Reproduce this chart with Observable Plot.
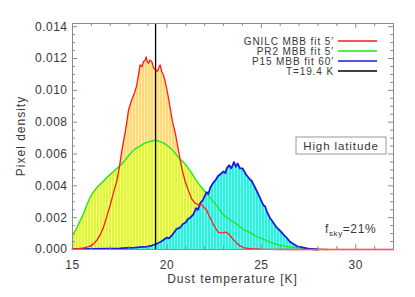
<!DOCTYPE html>
<html><head><meta charset="utf-8">
<script src="https://cdn.jsdelivr.net/npm/d3@7"></script>
<script src="https://cdn.jsdelivr.net/npm/@observablehq/plot@0.6"></script>
<style>
body{margin:0;background:#fff}
</style>
</head><body><div id="chart"></div>
<script>
// GNILC MBB fit 5'
const gnilcTemp = [15.0,15.3,15.6,15.9,16.1,16.3,16.5,16.64,16.8,17.0,17.2,17.35,17.5,17.6,17.7,17.8,17.96,18.05,18.14,18.3,18.4,18.5,18.58,18.68,18.76,18.85,18.9,18.96,19.02,19.1,19.2,19.3,19.38,19.5,19.57,19.64,19.72,19.8,19.9,19.99,20.1,20.17,20.3,20.43,20.6,20.79,20.96,21.14,21.3,21.5,21.7,21.85,22.0,22.1,22.2,22.29,22.45,22.55,22.7,22.8,23.0,23.1,23.25,23.4,23.5,23.7,23.87,24.1,24.4,25.0,26.0,32.0];
const gnilcDensity = [0.0000,0.00005,0.0001,0.0002,0.00034,0.0006,0.0010,0.0014,0.0020,0.0028,0.0037,0.0043,0.0053,0.0061,0.0068,0.0074,0.0087,0.0091,0.0094,0.0099,0.0103,0.0110,0.0116,0.0115,0.0118,0.0119,0.0121,0.0118,0.0117,0.0119,0.0118,0.0114,0.0113,0.0112,0.0114,0.0116,0.0112,0.0110,0.0106,0.0101,0.0094,0.0089,0.0080,0.0074,0.0063,0.0051,0.0043,0.0037,0.0032,0.0029,0.0028,0.0028,0.0026,0.0025,0.0022,0.0020,0.0016,0.0014,0.0011,0.00106,0.00105,0.0011,0.0010,0.0008,0.00065,0.0004,0.00023,0.0001,0.00005,0.00002,0.0,0.0];
// PR2 MBB fit 5'
const pr2Temp = [15.0,15.2,15.4,15.6,15.76,15.95,16.1,16.3,16.64,16.9,17.17,17.45,17.7,18.05,18.3,18.58,18.85,19.1,19.35,19.6,19.8,20.05,20.34,20.6,20.87,21.2,21.58,21.9,22.29,22.6,22.99,23.3,23.7,24.0,24.4,24.7,25.1,25.6,26.16,26.6,27.05,27.5,28.0,28.5];
const pr2Density = [0.0009,0.0013,0.0018,0.0023,0.0028,0.0033,0.0036,0.0039,0.0043,0.0046,0.0049,0.0052,0.0055,0.0060,0.0063,0.0065,0.0067,0.0068,0.00685,0.0068,0.0067,0.0065,0.0062,0.0058,0.0055,0.0050,0.0043,0.0038,0.00325,0.0028,0.0022,0.0019,0.0016,0.0013,0.00106,0.00085,0.00065,0.0004,0.00023,0.00015,0.0001,0.00005,0.00002,0.0];
// P15 MBB fit 60'
const p15Temp = [15.0,16.0,17.0,17.5,17.9,18.3,18.6,18.94,19.2,19.47,19.7,20.0,20.1,20.2,20.4,20.52,20.7,20.85,21.0,21.1,21.23,21.4,21.55,21.65,21.76,21.9,22.1,22.2,22.3,22.46,22.6,22.7,22.8,23.0,23.1,23.17,23.3,23.4,23.45,23.55,23.65,23.75,23.87,24.0,24.1,24.2,24.4,24.5,24.58,24.75,24.93,25.1,25.2,25.29,25.45,25.63,25.8,26.0,26.2,26.34,26.5,26.7,26.9,27.05,27.3,27.6,28.0];
const p15Density = [0.00002,0.00003,0.00005,0.00007,0.0001,0.00012,0.00015,0.00018,0.00025,0.00036,0.0005,0.00075,0.0007,0.0008,0.0011,0.0013,0.00138,0.0016,0.0017,0.0019,0.0020,0.0022,0.0026,0.0025,0.0029,0.0031,0.0036,0.0035,0.0039,0.0042,0.0044,0.0046,0.0047,0.0049,0.0048,0.0051,0.0053,0.0051,0.0052,0.0055,0.0052,0.0054,0.0051,0.0051,0.0049,0.0047,0.0044,0.0043,0.0041,0.0037,0.00325,0.0028,0.0027,0.0024,0.0020,0.0017,0.0014,0.00117,0.0009,0.00075,0.0005,0.00034,0.0002,0.00017,0.0001,0.00003,0.0];

const referenceTemp = [19.4];
const legendLabels = ["GNILC MBB fit 5\u2032", "PR2 MBB fit 5\u2032", "P15 MBB fit 60\u2032", "T=19.4 K"];
const legendColors = ["#ff1a1a", "#1ee61e", "#1a1ae6", "#000000"];

const xTicks = [15, 20, 25, 30];
const xMinorTicks = [16,17,18,19,21,22,23,24,26,27,28,29,31,32];
const yTicks = [0, 0.002, 0.004, 0.006, 0.008, 0.010, 0.012, 0.014];
const yMinorTicks = [0.0005,0.0010,0.0015,0.0025,0.0030,0.0035,0.0045,0.0050,0.0055,0.0065,0.0070,0.0075,0.0085,0.0090,0.0095,0.0105,0.0110,0.0115,0.0125,0.0130,0.0135];

const W = 415, H = 297, mL = 72, mR = 22, mT = 23, mB = 48;
const pw = W - mL - mR, ph = H - mT - mB;
const axisGray = "#8c8c8c";
const textColor = "#383838";
const font = "'Liberation Sans', Arial, Helvetica, sans-serif";

const zip = (ts, vs) => ts.map((t, i) => ({t, v: vs[i]}));
const gnilc = zip(gnilcTemp, gnilcDensity);
const pr2 = zip(pr2Temp, pr2Density);
const p15 = zip(p15Temp, p15Density);

function defsMark() {
  const defs = d3.create("svg:defs");
  const pats = [["stRed", "#ffd977", "#ffecb0"], ["stGreen", "#e0f43a", "#f2ff80"], ["stCyan", "#30efdc", "#78fff0"]];
  for (const [id, c1, c2] of pats) {
    const p = defs.append("pattern").attr("id", id).attr("patternUnits", "userSpaceOnUse").attr("width", 3).attr("height", 10);
    p.append("rect").attr("width", 3).attr("height", 10).attr("fill", c1);
    p.append("rect").attr("width", 1).attr("height", 10).attr("fill", c2);
  }
  return defs.node();
}

function annotations(index, scales, values, dims) {
  const g = d3.create("svg:g").attr("font-family", font).attr("fill", textColor);
  const right = dims.width - dims.marginRight, top = dims.marginTop, bottom = dims.height - dims.marginBottom;
  // legend
  legendLabels.forEach((lab, i) => {
    const y = top + 18 + i * 10;
    g.append("text").attr("x", right - 59).attr("y", y + 3.5).attr("text-anchor", "end")
      .attr("font-size", 10).attr("letter-spacing", "0.9px").text(lab);
    g.append("line").attr("x1", right - 55).attr("x2", right - 16).attr("y1", y).attr("y2", y)
      .attr("stroke", legendColors[i]).attr("stroke-width", 1.3);
  });
  // High latitude box
  g.append("rect").attr("x", right - 97).attr("y", top + 114).attr("width", 90).attr("height", 17)
    .attr("fill", "#fff").attr("stroke", "#999").attr("stroke-width", 1);
  g.append("text").attr("x", right - 52).attr("y", top + 127).attr("text-anchor", "middle")
    .attr("font-size", 11.5).attr("letter-spacing", "0.9px").text("High latitude");
  // f_sky
  const fs = g.append("text").attr("x", right - 68).attr("y", bottom - 16).attr("text-anchor", "start")
    .attr("font-size", 12).attr("letter-spacing", "0.6px");
  fs.append("tspan").text("f");
  fs.append("tspan").attr("font-size", 8).attr("dy", 3).text("sky");
  fs.append("tspan").attr("dy", -3).text("=21%");
  // axis titles
  g.append("text").attr("x", dims.marginLeft + (right - dims.marginLeft) / 2).attr("y", H - 14)
    .attr("text-anchor", "middle").attr("font-size", 12).attr("letter-spacing", "1px").text("Dust temperature [K]");
  g.append("text").attr("transform", `translate(25,${(top + bottom) / 2}) rotate(-90)`)
    .attr("text-anchor", "middle").attr("font-size", 12).attr("letter-spacing", "1px").text("Pixel density");
  return g.node();
}

const chart = Plot.plot({
  width: W, height: H,
  marginLeft: mL, marginRight: mR, marginTop: mT, marginBottom: mB,
  style: {fontFamily: font, fontSize: "12px", color: textColor, background: "#fff"},
  x: {domain: [15, 32]},
  y: {domain: [0, 0.0142]},
  marks: [
    defsMark,
    Plot.areaY(gnilc, {x: "t", y: "v", fill: "url(#stRed)"}),
    Plot.areaY(pr2, {x: "t", y: "v", fill: "url(#stGreen)", curve: "monotone-x"}),
    Plot.areaY(p15, {x: "t", y: "v", fill: "url(#stCyan)"}),
    Plot.lineY(pr2, {x: "t", y: "v", stroke: legendColors[1], strokeWidth: 1.3, curve: "monotone-x"}),
    Plot.lineY(p15, {x: "t", y: "v", stroke: legendColors[2], strokeWidth: 1.8}),
    Plot.lineY(gnilc, {x: "t", y: "v", stroke: legendColors[0], strokeWidth: 1.3}),
    Plot.ruleX(referenceTemp, {x: d => d, stroke: "#000", strokeWidth: 1.3}),
    // ticks inside frame
    Plot.ruleX(xTicks, {x: d => d, insetTop: ph - 5, stroke: axisGray}),
    Plot.ruleX(xTicks, {x: d => d, insetBottom: ph - 5, stroke: axisGray}),
    Plot.ruleX(xMinorTicks, {x: d => d, insetTop: ph - 3, stroke: axisGray}),
    Plot.ruleX(xMinorTicks, {x: d => d, insetBottom: ph - 3, stroke: axisGray}),
    Plot.ruleY(yTicks, {y: d => d, insetRight: pw - 5, stroke: axisGray}),
    Plot.ruleY(yTicks, {y: d => d, insetLeft: pw - 5, stroke: axisGray}),
    Plot.ruleY(yMinorTicks, {y: d => d, insetRight: pw - 3, stroke: axisGray}),
    Plot.ruleY(yMinorTicks, {y: d => d, insetLeft: pw - 3, stroke: axisGray}),
    Plot.frame({stroke: axisGray}),
    Plot.axisX({ticks: xTicks, tickSize: 0, tickPadding: 11, label: null, fontSize: 12, fill: textColor}),
    Plot.axisY({ticks: yTicks, tickSize: 0, tickPadding: 5, label: null, tickFormat: d3.format(".3f"), fontSize: 12, fill: textColor}),
    annotations
  ]
});
chart.querySelectorAll("g[aria-label$='tick label'] text").forEach(t => t.setAttribute("letter-spacing", "0.5px"));
document.getElementById("chart").appendChild(chart);
</script>
</body></html>
